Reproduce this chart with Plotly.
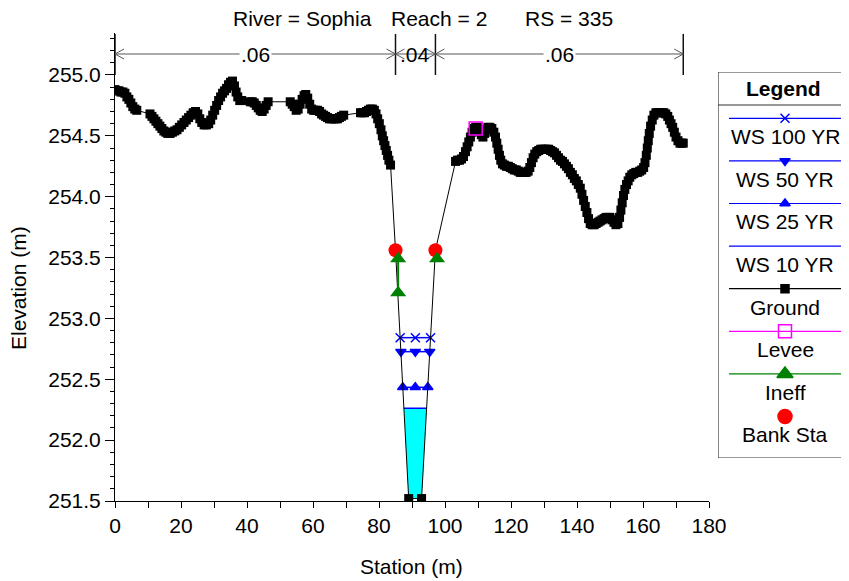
import numpy as np
import plotly.graph_objects as go

OFF = 8                      # page body margin offset
W, H = 841, 573
FONT = "Liberation Sans, Arial, sans-serif"

# ---------------- data ----------------
title_parts = ["River = Sophia", "Reach = 2", "RS = 335"]

ground_sta = [0.0, 0.6, 1.2, 1.8, 2.4, 3.0, 3.6, 4.2, 4.8, 5.4, 6.0, 6.6,
              10.6, 11.2, 11.8, 12.4, 13.0, 13.6, 14.2, 14.8, 15.4, 16.0, 16.7, 17.4, 18.1, 18.8, 19.5,
              20.2, 20.9, 21.6, 22.3, 23.0, 23.7, 24.4, 25.1, 25.7, 26.3, 27.0, 27.7, 28.4, 29.0, 29.6,
              30.2, 30.8, 31.4, 32.0, 32.6, 33.2, 33.8, 34.4, 35.0, 35.6, 36.2, 36.7, 37.2, 37.8, 38.4,
              41.0, 41.6, 42.2, 42.8, 43.4, 44.0, 44.6, 45.2, 45.8, 46.4,
              53.1, 53.7, 54.3, 54.9, 55.5, 56.1, 56.7, 57.3, 57.8, 58.4, 59.0, 59.6, 60.2, 60.8, 61.4,
              62.0, 62.6, 63.2, 63.8, 64.4, 65.0, 65.6, 66.2, 66.8, 67.4, 68.0, 68.6, 69.3,
              74.4, 75.0, 75.6, 76.2, 76.8, 77.4, 78.0, 78.6, 79.1, 79.6, 80.1, 80.6, 81.0, 81.4, 81.8,
              82.2, 82.6, 83.0, 83.5,
              85.0, 89.0, 92.9, 97.1,
              103.2, 103.8, 104.4, 105.0, 105.6, 106.2, 106.7, 107.2, 107.7, 108.2, 108.7, 109.3, 109.9,
              110.5, 111.0, 111.5, 112.0, 112.5, 113.0, 113.6, 114.2, 114.8, 115.3, 115.7, 116.1, 116.5,
              116.9, 117.4, 118.0, 118.6, 119.2, 119.8, 120.4, 121.0, 121.6, 122.2, 122.8, 123.4, 124.0,
              124.6, 125.2, 125.7, 126.2, 126.7, 127.2, 127.8, 128.4, 129.0, 129.6, 130.2, 130.8, 131.4,
              132.0, 132.6, 133.2, 133.8, 134.4, 135.0, 135.6, 136.2, 136.8, 137.4, 138.0, 138.6, 139.2,
              139.8, 140.4, 141.0, 141.5, 142.0, 142.5, 143.0, 143.5, 144.0, 144.6, 145.2, 145.8, 146.4,
              147.0, 147.6, 148.2, 148.8, 149.4, 150.0, 150.6, 151.2, 151.8, 152.4, 152.9, 153.3, 153.7,
              154.1, 154.5, 155.0, 155.5, 156.0, 156.6, 157.2, 157.8, 158.4, 159.0, 159.6, 160.2, 160.6,
              161.0, 161.3, 161.6, 161.9, 162.3, 162.8, 163.3, 163.9, 164.5, 165.1, 165.7, 166.3, 166.9,
              167.5, 168.0, 168.5, 169.0, 169.5, 170.0, 170.6, 171.2, 171.7, 172.2]
ground_elev = [254.88, 254.87, 254.87, 254.86, 254.86, 254.85, 254.82, 254.80, 254.77, 254.74, 254.72, 254.71,
               254.68, 254.66, 254.64, 254.62, 254.60, 254.58, 254.56, 254.54, 254.53, 254.52, 254.52, 254.53,
               254.54, 254.55, 254.57,
               254.59, 254.61, 254.63, 254.65, 254.67, 254.69, 254.70, 254.68, 254.64, 254.61, 254.59, 254.59,
               254.60, 254.63, 254.67,
               254.71, 254.75, 254.79, 254.82, 254.85, 254.87, 254.89, 254.92, 254.94, 254.95, 254.91, 254.86,
               254.82, 254.79, 254.79,
               254.78, 254.78, 254.77, 254.75, 254.73, 254.71, 254.70, 254.72, 254.75, 254.78,
               254.78, 254.76, 254.74, 254.71, 254.72, 254.76, 254.80, 254.83, 254.84, 254.81, 254.76, 254.72,
               254.71, 254.71, 254.71,
               254.70, 254.68, 254.67, 254.66, 254.65, 254.64, 254.64, 254.64, 254.64, 254.64, 254.65, 254.66,
               254.67,
               254.69, 254.69, 254.69, 254.70, 254.71, 254.72, 254.72, 254.71, 254.68, 254.64, 254.60, 254.55,
               254.50, 254.46, 254.42,
               254.38, 254.34, 254.30, 254.26,
               253.56, 251.52, 251.52, 253.56,
               254.29, 254.30, 254.30, 254.31, 254.33, 254.37, 254.41, 254.45, 254.49, 254.53, 254.56, 254.57,
               254.57,
               254.55, 254.51, 254.49, 254.52, 254.55, 254.57, 254.57, 254.56, 254.53, 254.49, 254.44, 254.39,
               254.34,
               254.30, 254.27, 254.26, 254.25, 254.25, 254.24, 254.23, 254.22, 254.22, 254.21, 254.20, 254.20,
               254.20,
               254.20, 254.21, 254.24, 254.28, 254.32, 254.35, 254.37, 254.38, 254.39, 254.39, 254.39, 254.39,
               254.39,
               254.38, 254.37, 254.36, 254.34, 254.32, 254.30, 254.29, 254.27, 254.25, 254.23, 254.20, 254.18,
               254.15,
               254.13, 254.10, 254.07, 254.02, 253.97, 253.92, 253.87, 253.82, 253.78, 253.77, 253.77, 253.78,
               253.79,
               253.80, 253.81, 253.82, 253.83, 253.83, 253.83, 253.81, 253.79, 253.77, 253.78, 253.83, 253.89,
               253.95,
               254.01, 254.06, 254.10, 254.13, 254.16, 254.18, 254.19, 254.20, 254.20, 254.21, 254.22, 254.24,
               254.28,
               254.34, 254.40, 254.46, 254.52, 254.58, 254.63, 254.67, 254.69, 254.69, 254.69, 254.69, 254.69,
               254.68,
               254.66, 254.63, 254.60, 254.57, 254.53, 254.49, 254.46, 254.44, 254.44, 254.44]

levee_sta = [109.3]
levee_elev = [254.56]

bank_sta = [85.0, 97.1]
bank_elev = [253.56, 253.56]

ineff_left_sta = [85.8, 85.8]
ineff_left_elev = [253.49, 253.21]
ineff_right_sta = [97.6]
ineff_right_elev = [253.49]

ws_names = ["WS 100 YR", "WS 50 YR", "WS 25 YR", "WS 10 YR"]
ws_elev = [252.842, 252.727, 252.434, 252.262]
ws_symbols = ["x-thin", "triangle-down", "triangle-up", None]

n_sta = [0.0, 85.0, 97.1, 172.2]
n_vals = [".06", ".04", ".06"]

x_range = [0, 180]
y_range = [251.5, 255.345]

# ---------------- helpers ----------------
gs = np.array(ground_sta)
ge = np.array(ground_elev)
imin = int(np.argmin(ge))


def edges(elev):
    i = imin
    while ge[i] < elev:
        i -= 1
    left = np.interp(elev, [ge[i + 1], ge[i]], [gs[i + 1], gs[i]])
    j = imin + 1
    while ge[j] < elev:
        j += 1
    right = np.interp(elev, [ge[j - 1], ge[j]], [gs[j - 1], gs[j]])
    return left, right, i, j


def px(v):
    return (v - OFF) / W


def py(v):
    return 1 - (v - OFF) / H


XD = [px(115), px(709)]
YD = [py(501), py(33)]

fig = go.Figure()

# WS 10 fill
l10, r10, i10, j10 = edges(ws_elev[3])
fx = [l10] + list(gs[i10 + 1:j10]) + [r10]
fy = [ws_elev[3]] + list(ge[i10 + 1:j10]) + [ws_elev[3]]
fig.add_trace(go.Scatter(x=fx, y=fy, fill="toself", fillcolor="#00FFFF", mode="lines",
                         line=dict(width=0, color="#00FFFF"), hoverinfo="skip", showlegend=False))

# WS lines
for name, e, sym in zip(ws_names, ws_elev, ws_symbols):
    l, r, _, _ = edges(e)
    if sym is None:
        fig.add_trace(go.Scatter(x=[l, r], y=[e, e], mode="lines", line=dict(color="#0000FF", width=1.5),
                                 name=name, showlegend=False))
    else:
        fig.add_trace(go.Scatter(x=[l, (l + r) / 2, r], y=[e, e, e], mode="lines+markers",
                                 line=dict(color="#0000FF", width=1.5),
                                 marker=dict(symbol=sym, size=9, color="#0000FF",
                                             line=dict(color="#0000FF", width=1.5)),
                                 name=name, showlegend=False))

# Ground
fig.add_trace(go.Scatter(x=ground_sta, y=ground_elev, mode="lines+markers",
                         line=dict(color="black", width=1),
                         marker=dict(symbol="square", size=9, color="black"),
                         name="Ground", showlegend=False))

# Bank stations
fig.add_trace(go.Scatter(x=bank_sta, y=bank_elev, mode="markers",
                         marker=dict(symbol="circle", size=14, color="#FF0000"),
                         name="Bank Sta", showlegend=False))

# Ineffective
fig.add_trace(go.Scatter(x=ineff_left_sta, y=ineff_left_elev, mode="lines+markers",
                         line=dict(color="#008000", width=2),
                         marker=dict(symbol="triangle-up", size=14, color="#008000"),
                         name="Ineff", showlegend=False))
fig.add_trace(go.Scatter(x=ineff_right_sta, y=ineff_right_elev, mode="markers",
                         marker=dict(symbol="triangle-up", size=14, color="#008000"),
                         name="Ineff", showlegend=False))

# Levee
fig.add_trace(go.Scatter(x=levee_sta, y=levee_elev, mode="markers",
                         marker=dict(symbol="square-open", size=13, color="#FF00FF",
                                     line=dict(color="#FF00FF", width=1.5)),
                         name="Levee", showlegend=False))

shapes = []
annotations = []

# n-value bars at top
y_top = py(34)
y_bot = py(75)
y_arr = py(54)
dx = 9 / 3.3
dh = 5 / H
for s in n_sta:
    shapes.append(dict(type="line", xref="x", yref="paper", x0=s, x1=s, y0=y_bot, y1=y_top,
                       line=dict(color="#111111", width=1.5)))
for k, val in enumerate(n_vals):
    a, b = n_sta[k], n_sta[k + 1]
    shapes.append(dict(type="line", xref="x", yref="paper", x0=a, x1=b, y0=y_arr, y1=y_arr,
                       line=dict(color="#555555", width=1)))
    shapes.append(dict(type="path", xref="x", yref="paper",
                       path=f"M {a + dx},{y_arr + dh} L {a},{y_arr} L {a + dx},{y_arr - dh}",
                       line=dict(color="#555555", width=1)))
    shapes.append(dict(type="path", xref="x", yref="paper",
                       path=f"M {b - dx},{y_arr + dh} L {b},{y_arr} L {b - dx},{y_arr - dh}",
                       line=dict(color="#555555", width=1)))
    annotations.append(dict(x=(a + b) / 2, y=y_arr, xref="x", yref="paper", text=val, showarrow=False,
                            font=dict(family=FONT, size=21, color="black"),
                            bgcolor="white" if (b - a) > 20 else "rgba(0,0,0,0)", borderpad=1,
                            xanchor="center", yanchor="middle"))

# Title parts
for t, cx in zip(title_parts, [302, 439, 569]):
    annotations.append(dict(x=px(cx), y=py(6), xref="paper", yref="paper", text=t, showarrow=False,
                            font=dict(family=FONT, size=21, color="black"), borderpad=0,
                            xanchor="center", yanchor="top"))

# Axis titles
annotations.append(dict(x=px(411), y=py(566), xref="paper", yref="paper", text="Station (m)",
                        showarrow=False, font=dict(family=FONT, size=21, color="black"),
                        xanchor="center", yanchor="middle"))
annotations.append(dict(x=px(18), y=py(288), xref="paper", yref="paper", text="Elevation (m)",
                        showarrow=False, textangle=-90, font=dict(family=FONT, size=21, color="black"),
                        xanchor="center", yanchor="middle"))

# ---------------- custom legend (x2/y2 axes in screen pixels) ----------------
LX0, LX1, LY0, LY1 = 718, 848, 72, 458
shapes.append(dict(type="rect", xref="x2", yref="y2", x0=LX0, x1=LX1, y0=LY0, y1=LY1,
                   line=dict(color="#333333", width=1.2)))
shapes.append(dict(type="line", xref="x2", yref="y2", x0=LX0, x1=LX1, y0=105, y1=105,
                   line=dict(color="#333333", width=1)))
annotations.append(dict(x=783, y=88, xref="x2", yref="y2", text="<b>Legend</b>", showarrow=False,
                        font=dict(family=FONT, size=21, color="black"), xanchor="center", yanchor="middle"))

leg_items = [
    ("WS 100 YR", "#0000FF", "x-thin", 9, True),
    ("WS 50 YR", "#0000FF", "triangle-down", 9, True),
    ("WS 25 YR", "#0000FF", "triangle-up", 9, True),
    ("WS 10 YR", "#0000FF", None, 0, True),
    ("Ground", "black", "square", 8, True),
    ("Levee", "#FF00FF", "square-open", 13, True),
    ("Ineff", "#008000", "triangle-up", 14, True),
    ("Bank Sta", "#FF0000", "circle", 14, False),
]
line_y0, text_y0, step = 118.3, 136.7, 42.6
for k, (name, col, sym, sz, has_line) in enumerate(leg_items):
    ly = line_y0 + k * step
    ty = text_y0 + k * step
    if has_line:
        shapes.append(dict(type="line", xref="x2", yref="y2", x0=729, x1=841, y0=ly, y1=ly,
                           line=dict(color=col, width=1.2)))
    if sym is not None:
        fig.add_trace(go.Scatter(x=[785], y=[ly], xaxis="x2", yaxis="y2", mode="markers",
                                 marker=dict(symbol=sym, size=sz, color=col, line=dict(color=col, width=1.5)),
                                 showlegend=False, hoverinfo="skip", cliponaxis=False))
    annotations.append(dict(x=785, y=ty, xref="x2", yref="y2", text=name, showarrow=False,
                            font=dict(family=FONT, size=21, color="black"),
                            xanchor="center", yanchor="middle"))

fig.update_layout(
    width=W, height=H,
    margin=dict(l=0, r=0, t=0, b=0, autoexpand=False),
    paper_bgcolor="white", plot_bgcolor="rgba(0,0,0,0)",
    showlegend=False,
    font=dict(family=FONT, size=21, color="black"),
    xaxis=dict(domain=XD, range=x_range, dtick=20, tick0=0, showgrid=False, zeroline=False,
               showline=True, linecolor="black", linewidth=1, ticks="outside", ticklen=6,
               tickcolor="black", tickfont=dict(family=FONT, size=21, color="black"),
               minor=dict(dtick=10, ticks="outside", ticklen=6, tickcolor="black", showgrid=False),
               automargin=False),
    yaxis=dict(domain=YD, range=y_range, dtick=0.5, tick0=251.5, tickformat=".1f", showgrid=False,
               zeroline=False, showline=True, linecolor="black", linewidth=1, ticks="outside", ticklen=9,
               tickcolor="black", tickfont=dict(family=FONT, size=21, color="black"),
               minor=dict(dtick=0.1, ticks="outside", ticklen=4, tickcolor="black", showgrid=False),
               automargin=False),
    xaxis2=dict(domain=[px(718), px(848)], range=[718, 848], visible=False, fixedrange=True, anchor="y2"),
    yaxis2=dict(domain=[py(458), py(72)], range=[458, 72], visible=False, fixedrange=True, anchor="x2"),
    shapes=shapes,
    annotations=annotations,
)

fig.write_html("out.html")
